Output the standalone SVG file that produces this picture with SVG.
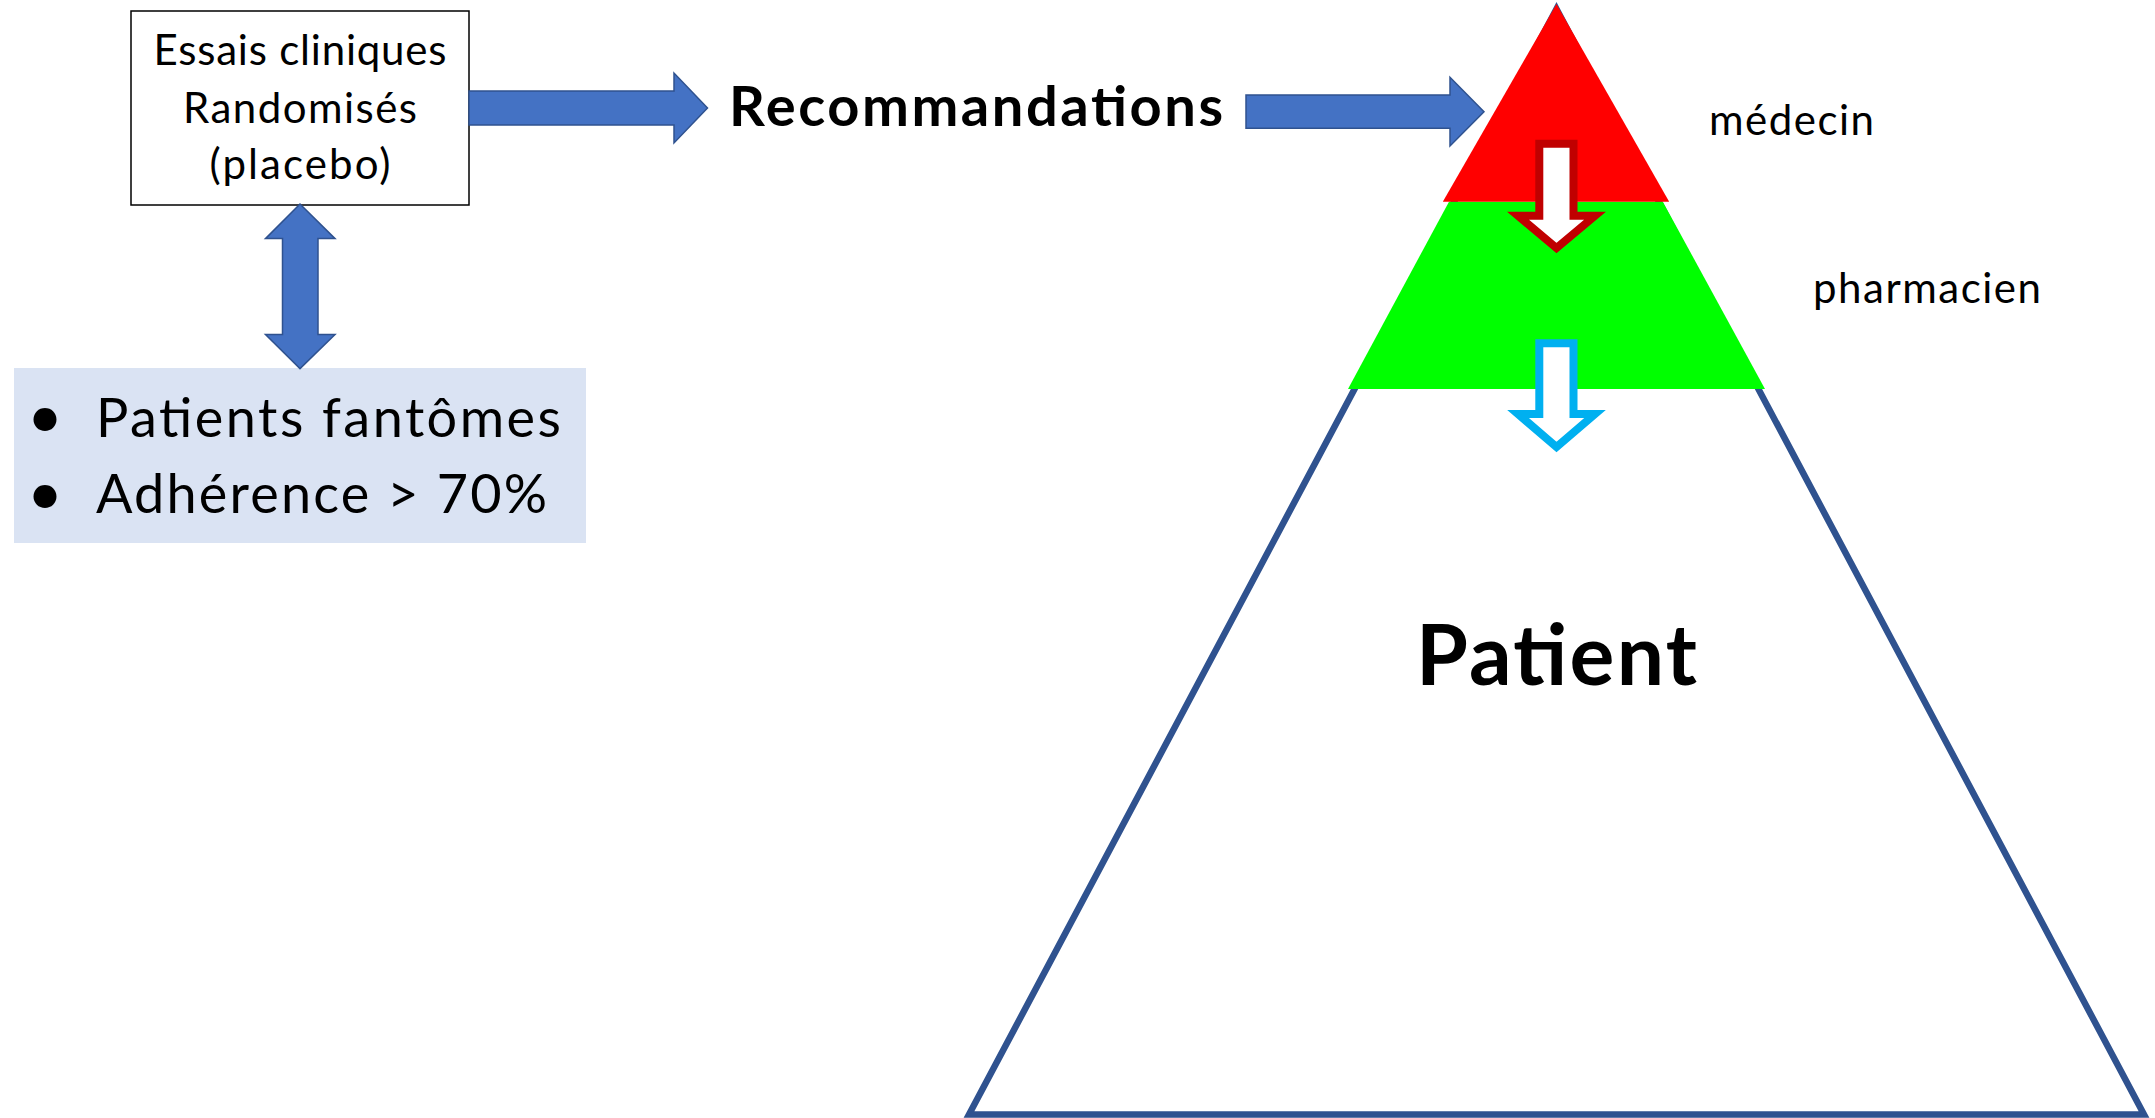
<svg xmlns="http://www.w3.org/2000/svg" width="2155" height="1118" viewBox="0 0 2155 1118">
<style>
  text { font-family: Lato, "Liberation Sans", sans-serif; fill: #000; }
  .box { font-size: 42px; }
  .bul { font-size: 54px; }
  .dot { font-size: 62px; }
  .lbl { font-size: 42px; }
  .bold { font-weight: bold; }
  .blue { fill: #4472C4; stroke: #2F528F; stroke-width: 1.5; }
</style>
<rect width="2155" height="1118" fill="#fff"/>

<g id="pyramid">
  <polygon points="1556.5,9 2144,1114.5 969,1114.5" fill="#fff" stroke="#2F528F" stroke-width="6.5" stroke-linejoin="miter"/>
  <polygon id="level-pharmacien" points="1449,201.7 1662.8,201.7 1765,389 1348,389" fill="#00FF00"/>
  <polygon id="level-medecin" points="1556.5,4 1669.2,201.7 1442.8,201.7" fill="#FF0000"/>
</g>

<g id="essais">
  <rect x="131" y="11" width="338" height="194" fill="#fff" stroke="#000" stroke-width="1.5"/>
  <text class="box" x="300" y="65.4" text-anchor="middle" textLength="293">Essais cliniques</text>
  <text class="box" x="300" y="122.5" text-anchor="middle" textLength="234">Randomisés</text>
  <text class="box" x="300" y="178.6" text-anchor="middle" textLength="181">(placebo)</text>
</g>

<g id="limites">
  <rect x="14" y="368" width="572" height="175" fill="#DAE3F3"/>
  <text class="dot" x="45" y="438" text-anchor="middle">•</text>
  <text class="bul" x="96" y="436.5" textLength="465">Patients fantômes</text>
  <text class="dot" x="45" y="515" text-anchor="middle">•</text>
  <text class="bul" x="96" y="513.2" textLength="451">Adhérence &gt; 70%</text>
</g>

<g id="recommandations">
  <text class="bold" x="729" y="126" font-size="56" textLength="494">Recommandations</text>
</g>

<g id="medecin">
  <text class="lbl" x="1709" y="135" textLength="165">médecin</text>
</g>

<g id="pharmacien">
  <text class="lbl" x="1813" y="303" textLength="228">pharmacien</text>
</g>

<g id="patient">
  <text class="bold" x="1416" y="685" font-size="84" textLength="281">Patient</text>
</g>

<g id="connectors">
  <polygon class="blue" points="469,91 674,91 674,73 707.5,108 674,143 674,125 469,125"/>
  <polygon class="blue" points="1246,95 1450,95 1450,77.3 1484,111.7 1450,146 1450,128.3 1246,128.3"/>
  <polygon class="blue" points="300,204 335,238.6 318,238.6 318,334.6 335,334.6 300,368.6 265.5,334.6 282.5,334.6 282.5,238.6 265.5,238.6"/>
  <polygon points="1539.3,143.7 1573.5,143.7 1573.5,215.7 1595,215.7 1556.5,248 1518,215.7 1539.3,215.7" fill="#fff" stroke="#C00000" stroke-width="8"/>
  <polygon points="1539.3,343.3 1573.5,343.3 1573.5,414 1595,414 1556.5,447 1518,414 1539.3,414" fill="#fff" stroke="#00B0F0" stroke-width="8"/>
</g>
</svg>
